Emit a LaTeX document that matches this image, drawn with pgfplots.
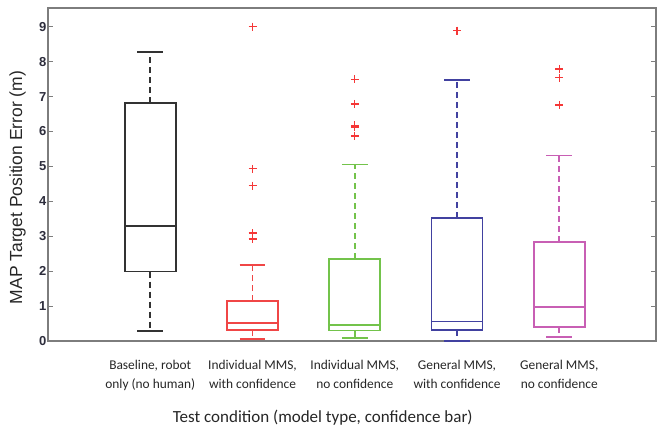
\documentclass[border=0pt]{standalone}
\usepackage{pgfplots}
\pgfplotsset{compat=1.18}
\usepgfplotslibrary{statistics}
\usepackage{fontspec}
\setmainfont{Liberation Sans}
\newfontfamily\calibri{Carlito}
\definecolor{cBlack}{RGB}{50,50,50}
\definecolor{cRed}{RGB}{240,70,70}
\definecolor{cGreen}{RGB}{115,195,75}
\definecolor{cBlue}{RGB}{65,65,160}
\definecolor{cMag}{RGB}{200,95,180}
\definecolor{cOut}{RGB}{245,55,55}
\definecolor{axgray}{RGB}{125,125,125}
\definecolor{tickc}{RGB}{45,45,60}
\begin{document}
\begin{tikzpicture}[x=1pt,y=1pt]
\useasboundingbox (-48,-88) rectangle (609,341);
\begin{axis}[
  scale only axis, width=608pt, height=333pt,
  at={(0,0)}, anchor=south west,
  xmin=0, xmax=5.946, ymin=0, ymax=9.535,
  xtick={1,2,3,4,5},
  xticklabels={{Baseline, robot\\only (no human)},{Individual MMS,\\with confidence},{Individual MMS,\\no confidence},{General MMS,\\with confidence},{General MMS,\\no confidence}},
  x tick label style={font=\calibri\fontsize{13.4}{19}\selectfont, align=center, text=black!85, yshift=-16pt},
  major x tick style={draw=none},
  ytick={0,1,...,9},
  y tick label style={font=\bfseries\fontsize{13}{14}\selectfont, text=tickc, xshift=2pt},
  /pgf/number format/assume math mode=true,
  tick align=inside,
  major tick length=5pt,
  tick style={draw=axgray, line width=0.8pt},
  axis line style={draw=axgray, line width=1.5pt},
  xlabel={Test condition (model type, confidence bar)},
  xlabel style={font=\calibri\fontsize{17}{20}\selectfont, at={(axis description cs:0.452,-0.2462)}, anchor=base, text=black!85},
  ylabel={MAP Target Position Error (m)},
  ylabel style={font=\fontsize{17.5}{20}\selectfont, at={(axis description cs:-0.0502,0.461)}, anchor=center, text=black!85},
  boxplot/draw direction=y,
  boxplot/box extend=0.5,
  boxplot/whisker extend=0.25,
  boxplot/every box/.style={line width=1.7pt},
  boxplot/every median/.style={line width=1.7pt},
  boxplot/every whisker/.style={line width=1.7pt},
  boxplot/draw/lower whisker/.code={%
    \draw[/pgfplots/boxplot/every whisker/.try, dash pattern=on 6pt off 4pt]
      (boxplot cs:\pgfplotsboxplotvalue{lower quartile}) -- (boxplot cs:\pgfplotsboxplotvalue{lower whisker});
    \draw[/pgfplots/boxplot/every whisker/.try]
      (boxplot whisker cs:\pgfplotsboxplotvalue{lower whisker},0) -- (boxplot whisker cs:\pgfplotsboxplotvalue{lower whisker},1);
  },
  boxplot/draw/upper whisker/.code={%
    \draw[/pgfplots/boxplot/every whisker/.try, dash pattern=on 6pt off 4pt]
      (boxplot cs:\pgfplotsboxplotvalue{upper quartile}) -- (boxplot cs:\pgfplotsboxplotvalue{upper whisker});
    \draw[/pgfplots/boxplot/every whisker/.try]
      (boxplot whisker cs:\pgfplotsboxplotvalue{upper whisker},0) -- (boxplot whisker cs:\pgfplotsboxplotvalue{upper whisker},1);
  },
  every axis plot/.append style={line width=1.7pt, mark=+, mark size=4pt, mark options={draw=cOut, solid, line width=1.3pt}},
]
\addplot[draw=cBlack, boxplot prepared={draw position=1, lower whisker=0.29, lower quartile=1.99, median=3.30, upper quartile=6.81, upper whisker=8.27}] coordinates {};
\addplot[draw=cRed, boxplot prepared={draw position=2, lower whisker=0.05, lower quartile=0.32, median=0.52, upper quartile=1.14, upper whisker=2.17}] table[row sep=\\, y index=0] {y\\ 9.00\\ 4.93\\ 4.45\\ 3.09\\ 2.92\\};
\addplot[draw=cGreen, boxplot prepared={draw position=3, lower whisker=0.08, lower quartile=0.30, median=0.46, upper quartile=2.35, upper whisker=5.05}] table[row sep=\\, y index=0] {y\\ 7.49\\ 6.79\\ 6.18\\ 6.13\\ 5.87\\};
\addplot[draw=cBlue, boxplot prepared={draw position=4, lower whisker=0.01, lower quartile=0.32, median=0.56, upper quartile=3.52, upper whisker=7.47}] table[row sep=\\, y index=0] {y\\ 8.89\\};
\addplot[draw=cMag, boxplot prepared={draw position=5, lower whisker=0.11, lower quartile=0.40, median=0.97, upper quartile=2.84, upper whisker=5.31}] table[row sep=\\, y index=0] {y\\ 7.79\\ 7.54\\ 6.76\\};
\end{axis}
\end{tikzpicture}
\end{document}
